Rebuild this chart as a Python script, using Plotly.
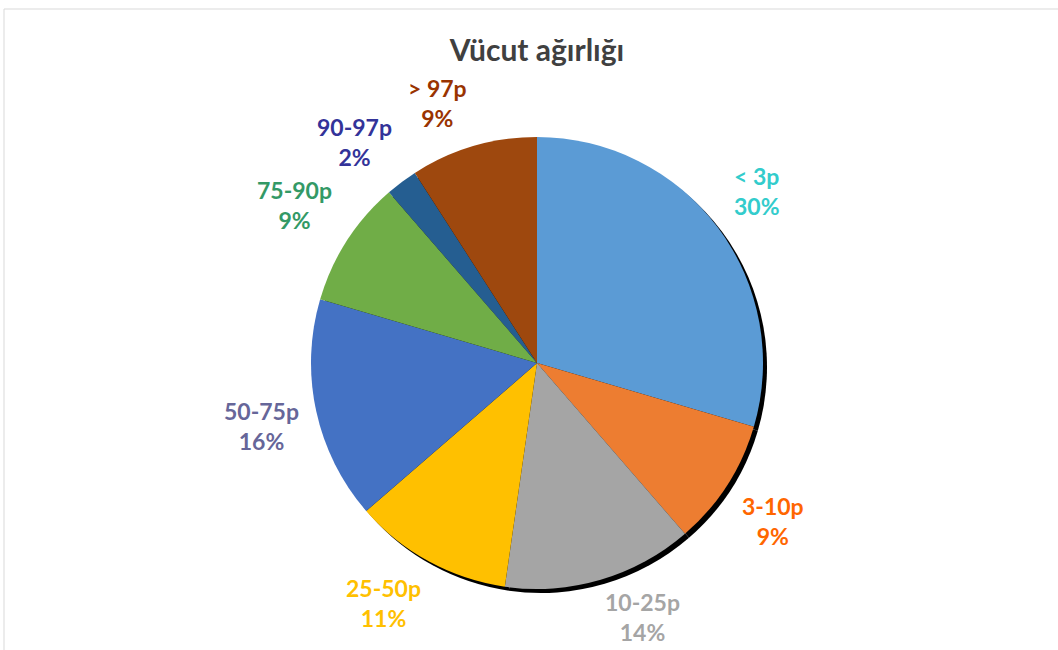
import numpy as np
import plotly.graph_objects as go

# Persentil dilimleri (saat yönünde, tepeden başlayarak) – vaka sayıları (n=44)
labels = ["< 3p", "3-10p", "10-25p", "25-50p", "50-75p", "75-90p", "90-97p", "> 97p"]
counts = [13, 4, 6, 5, 7, 4, 1, 4]
slice_colors = ["#5B9BD5", "#ED7D31", "#A5A5A5", "#FFC000",
                "#4472C4", "#70AD47", "#255E91", "#9E480E"]
label_colors = ["#33CCCC", "#FF6600", "#A5A5A5", "#FFC000",
                "#666699", "#339966", "#333399", "#993300"]

W, H = 1058, 650
cx, cy, R = 537, 363, 226  # pie centre / radius in px
shadow = 4

def dom(dx=0, dy=0):
    return dict(
        x=[(cx - R + dx) / W, (cx + R + dx) / W],
        y=[1 - (cy + R + dy) / H, 1 - (cy - R + dy) / H],
    )

fig = go.Figure()

# shadow
fig.add_trace(
    go.Pie(
        values=counts,
        sort=False,
        direction="clockwise",
        marker=dict(colors=["black"] * len(counts), line=dict(width=0)),
        textinfo="none",
        hoverinfo="skip",
        showlegend=False,
        domain=dom(shadow, shadow),
    )
)

fig.add_trace(
    go.Pie(
        labels=labels,
        values=counts,
        sort=False,
        direction="clockwise",
        marker=dict(colors=slice_colors, line=dict(width=0)),
        textinfo="none",
        showlegend=False,
        domain=dom(),
    )
)

# outside labels: nearest corner of the label box sits on the slice's mid ray
total = sum(counts)
cum = np.cumsum([0] + counts)
y_max = H - 33  # keep labels inside the chart area
annotations = []
for i, lab in enumerate(labels):
    mid = (cum[i] + counts[i] / 2) / total * 2 * np.pi
    s, c = np.sin(mid), np.cos(mid)
    hw, hh = 6 * len(lab), 25
    px = cx + R * 1.085 * s
    py = cy - R * 1.085 * c
    x = px + hw * np.sign(s)
    y = min(py - hh * np.clip(2 * c, -1, 1), y_max)
    pct = round(counts[i] / total * 100)
    annotations.append(
        dict(
            x=x / W, y=1 - y / H, xref="paper", yref="paper",
            xanchor="center", yanchor="middle",
            text=f"<b>{lab}<br>{pct}%</b>",
            showarrow=False,
            font=dict(family="Lato", size=23, color=label_colors[i]),
            align="center",
        )
    )

fig.update_layout(
    width=W,
    height=H,
    margin=dict(l=0, r=0, t=0, b=0),
    paper_bgcolor="white",
    plot_bgcolor="white",
    title=dict(
        text="<b>Vücut ağırlığı</b>",
        x=537 / W, xanchor="center",
        y=1 - 50 / H, yanchor="middle",
        font=dict(family="Lato", size=30, color="#404040"),
    ),
    annotations=annotations,
    shapes=[
        dict(type="rect", xref="paper", yref="paper",
             x0=4 / W, x1=1.01, y0=-0.01, y1=1 - 9 / H,
             line=dict(color="#D9D9D9", width=1), fillcolor="rgba(0,0,0,0)")
    ],
)

fig.write_html(
    "out.html",
    config={"displayModeBar": False},
    post_script="document.body.style.margin='0';",
)
